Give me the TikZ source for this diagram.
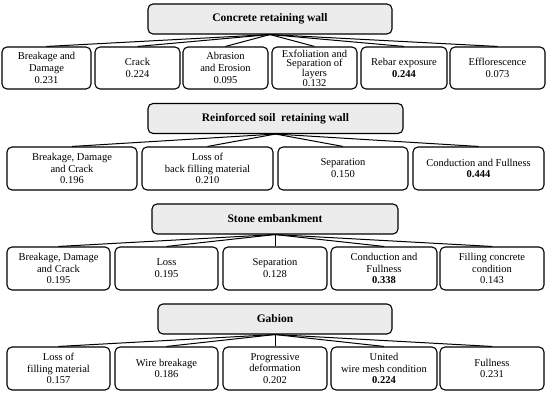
\documentclass[tikz,border=0pt]{standalone}
\usepackage{fontspec}
\setmainfont{Liberation Serif}
\definecolor{headgray}{RGB}{236, 236, 236}
\usepackage{tikz}
\usetikzlibrary{positioning}
\tikzset{
  headbox/.style={draw, line width=1.1pt, rounded corners=5pt, fill=headgray,
    minimum height=30pt, inner sep=1pt, font=\bfseries\fontsize{11.5}{13}\selectfont},
  itembox/.style={draw, line width=1.1pt, rounded corners=5pt, fill=white,
    align=center, inner sep=1pt, font=\fontsize{10.5}{11.8}\selectfont},
  link/.style={line width=1pt}
}

\begin{document}
\begin{tikzpicture}[x=1pt, y=-1pt]
  \useasboundingbox (0,0) rectangle (550,395);

  % Concrete retaining wall
  \node[headbox, minimum width=244pt] (cw) at (270, 19) {Concrete retaining wall};
  \node[itembox, minimum width=89pt, minimum height=42pt] (cw1) at (46.5, 68) {Breakage and\\Damage\\0.231};
  \node[itembox, minimum width=85pt, minimum height=42pt] (cw2) at (137.5, 68) {Crack\\0.224};
  \node[itembox, minimum width=85pt, minimum height=42pt] (cw3) at (225.5, 68) {Abrasion\\and Erosion\\0.095};
  \node[itembox, minimum width=85pt, minimum height=42pt, font=\fontsize{10.5}{9.6}\selectfont] (cw4) at (314.5, 68) {Exfoliation and\\Separation of\\layers\\0.132};
  \node[itembox, minimum width=86pt, minimum height=42pt] (cw5) at (404, 68) {Rebar exposure\\\textbf{0.244}};
  \node[itembox, minimum width=95pt, minimum height=42pt] (cw6) at (497.5, 68) {Efflorescence\\0.073};
  \draw[link] (cw.south) -- (cw1.north);
  \draw[link] (cw.south) -- (cw2.north);
  \draw[link] (cw.south) -- (cw3.north);
  \draw[link] (cw.south) -- (cw4.north);
  \draw[link] (cw.south) -- (cw5.north);
  \draw[link] (cw.south) -- (cw6.north);

  % Reinforced soil retaining wall
  \node[headbox, minimum width=255pt] (rs) at (275.5, 118.5) {Reinforced soil\ \ retaining wall};
  \node[itembox, minimum width=130pt, minimum height=43pt] (rs1) at (72, 168.5) {Breakage, Damage\\and Crack\\0.196};
  \node[itembox, minimum width=131pt, minimum height=43pt] (rs2) at (207.5, 168.5) {Loss of\\back filling material\\0.210};
  \node[itembox, minimum width=130pt, minimum height=43pt] (rs3) at (343, 168.5) {Separation\\0.150};
  \node[itembox, minimum width=131pt, minimum height=43pt] (rs4) at (478.5, 168.5) {Conduction and Fullness\\\textbf{0.444}};
  \draw[link] (rs.south) -- (rs1.north);
  \draw[link] (rs.south) -- (rs2.north);
  \draw[link] (rs.south) -- (rs3.north);
  \draw[link] (rs.south) -- (rs4.north);

  % Stone embankment
  \node[headbox, minimum width=246pt] (se) at (275, 219) {Stone embankment};
  \node[itembox, minimum width=103pt, minimum height=43pt] (se1) at (58.5, 268.5) {Breakage, Damage\\and Crack\\0.195};
  \node[itembox, minimum width=103pt, minimum height=43pt] (se2) at (166.5, 268.5) {Loss\\0.195};
  \node[itembox, minimum width=104pt, minimum height=43pt] (se3) at (275, 268.5) {Separation\\0.128};
  \node[itembox, minimum width=106pt, minimum height=43pt] (se4) at (384, 268.5) {Conduction and\\Fullness\\\textbf{0.338}};
  \node[itembox, minimum width=104pt, minimum height=43pt] (se5) at (492, 268.5) {Filling concrete\\condition\\0.143};
  \draw[link] (se.south) -- (se1.north);
  \draw[link] (se.south) -- (se2.north);
  \draw[link] (se.south) -- (se3.north);
  \draw[link] (se.south) -- (se4.north);
  \draw[link] (se.south) -- (se5.north);

  % Gabion
  \node[headbox, minimum width=234pt] (gb) at (275, 319) {Gabion};
  \node[itembox, minimum width=103pt, minimum height=43pt] (gb1) at (58.5, 368.5) {Loss of\\filling material\\0.157};
  \node[itembox, minimum width=103pt, minimum height=43pt] (gb2) at (166.5, 368.5) {Wire breakage\\0.186};
  \node[itembox, minimum width=104pt, minimum height=43pt] (gb3) at (275, 368.5) {Progressive\\deformation\\0.202};
  \node[itembox, minimum width=106pt, minimum height=43pt] (gb4) at (384, 368.5) {United\\wire mesh condition\\\textbf{0.224}};
  \node[itembox, minimum width=104pt, minimum height=43pt] (gb5) at (492, 368.5) {Fullness\\0.231};
  \draw[link] (gb.south) -- (gb1.north);
  \draw[link] (gb.south) -- (gb2.north);
  \draw[link] (gb.south) -- (gb3.north);
  \draw[link] (gb.south) -- (gb4.north);
  \draw[link] (gb.south) -- (gb5.north);
\end{tikzpicture}
\end{document}
